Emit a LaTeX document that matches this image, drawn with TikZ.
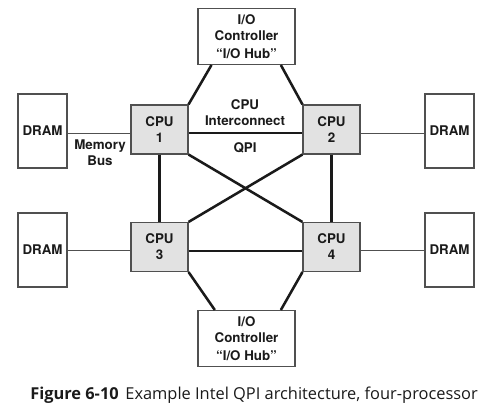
\documentclass[tikz,border=0pt]{standalone}
\usepackage{fontspec}
\setmainfont{TeX Gyre Heros}
\newfontfamily\capfont{Open Sans}
\usepackage{tikz}
\usetikzlibrary{positioning,calc}
\definecolor{q6ink}  {HTML}{1A1A1A}
\definecolor{q6chip} {HTML}{E2E2E2}
\definecolor{q6edge} {HTML}{505050}
\tikzset{
  q6node/.style={draw=q6edge, line width=0.8pt, fill=white, align=center, inner sep=0pt,
                 font=\fontsize{10}{12}\selectfont\bfseries, text=q6ink},
  q6cpu/.style={q6node, fill=q6chip, minimum width=42.75pt, minimum height=36.75pt},
  q6dram/.style={q6node, minimum width=36.75pt, minimum height=55.5pt},
  q6io/.style={q6node, minimum width=72.75pt, minimum height=42pt},
  q6link/.style={draw=q6ink, line width=1.9pt},
  q6bus/.style={draw=q6edge, line width=0.6pt},
  q6label/.style={align=center, inner sep=0pt, font=\fontsize{10}{12}\selectfont\bfseries, text=q6ink},
}
\begin{document}
\begin{tikzpicture}[x=0.75pt,y=-0.75pt]
  \useasboundingbox (0,0) rectangle (492,409);
  % hubs
  \node[q6io] (ioa) at (246.5,36.5) {I/O\\Controller\\[2pt]``I/O Hub''};
  \node[q6io] (iob) at (246.5,338.5) {I/O\\Controller\\[2pt]``I/O Hub''};
  % processors
  \node[q6cpu] (cpu1) at (159.5,129.5) {CPU\\1};
  \node[q6cpu] (cpu2) at (331.5,129.5) {CPU\\2};
  \node[q6cpu] (cpu3) at (159.5,247) {CPU\\3};
  \node[q6cpu] (cpu4) at (331.5,247) {CPU\\4};
  % memory
  \node[q6dram] (dram1) at (42.5,131) {DRAM};
  \node[q6dram] (dram2) at (449.5,131) {DRAM};
  \node[q6dram] (dram3) at (42.5,250) {DRAM};
  \node[q6dram] (dram4) at (449.5,250) {DRAM};
  % labels
  \node[q6label] (ictext) at (245,113) {CPU\\Interconnect};
  \node[q6label] (qpitext) at (245,148) {QPI};
  \node[q6label] (bustext) at (100,153) {Memory\\Bus};
  % QPI links
  \draw[q6link] ([xshift=10.5pt]ioa.south west) -- (cpu1.north east);
  \draw[q6link] ([xshift=-11pt]ioa.south east) -- (cpu2.north west);
  \draw[q6link] ([xshift=13pt]iob.north west) -- (cpu3.south east);
  \draw[q6link] ([xshift=-11pt]iob.north east) -- (cpu4.south west);
  \draw[q6link] ([yshift=-2.6pt]cpu1.east) -- ([yshift=-2.6pt]cpu2.west);
  \draw[q6link] ([yshift=-3pt]cpu3.east) -- ([yshift=-3pt]cpu4.west);
  \draw[q6link] (cpu1.south) -- (cpu3.north);
  \draw[q6link] (cpu2.south) -- (cpu4.north);
  \draw[q6link] (cpu1.south east) -- (cpu4.north west);
  \draw[q6link] (cpu2.south west) -- (cpu3.north east);
  % memory buses
  \draw[q6bus] ([yshift=-1.5pt]dram1.east) -- ([yshift=-1.5pt]dram1.east -| cpu1.west);
  \draw[q6bus] ([yshift=-1.5pt]dram2.west) -- ([yshift=-1.5pt]dram2.west -| cpu2.east);
  \draw[q6bus] (dram3.east) -- (dram3.east -| cpu3.west);
  \draw[q6bus] (dram4.west) -- (dram4.west -| cpu4.east);
  % caption
  \node[anchor=base west, inner sep=0pt, font=\capfont\fontsize{12.3}{14}\selectfont, text=q6ink]
    (caption) at (30,399) {\textbf{Figure 6-10}\hspace{5pt}Example Intel QPI architecture, four-processor};
\end{tikzpicture}
\end{document}
